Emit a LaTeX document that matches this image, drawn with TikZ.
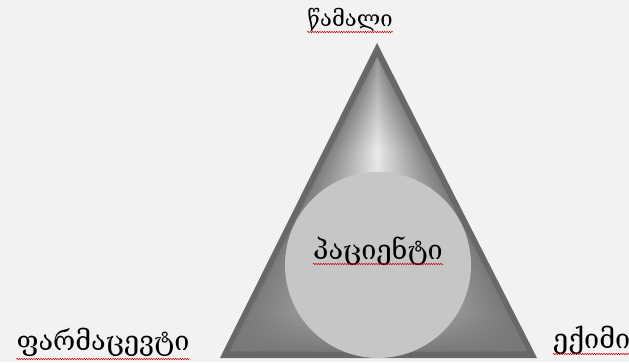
\documentclass[tikz,border=0pt]{standalone}
\usepackage{fontspec}
\newfontfamily\geo{DejaVu Serif}
\usetikzlibrary{decorations.pathmorphing,fadings}
\definecolor{bg}{HTML}{F2F2F2}
\definecolor{edge}{HTML}{686868}
\definecolor{disc}{HTML}{C6C6C6}
\definecolor{shout}{HTML}{787878}
\tikzfading[name=fadeup, top color=transparent!100, bottom color=transparent!0]
\tikzset{
  lbl/.style={font=\geo\fontsize{27}{30}\selectfont, inner sep=0pt, anchor=base},
  toplbl/.style={lbl, font=\geo\fontsize{22}{26}\selectfont},
  spell/.style={draw=red!80!black, line width=0.5pt, decorate,
    decoration={snake, amplitude=0.7pt, segment length=2.4pt}},
}
\begin{document}
\begin{tikzpicture}[x=1pt,y=-1pt]
\useasboundingbox (0,0) rectangle (629,362);
\fill[bg] (0,0) rectangle (629,362);
% triangle
\coordinate (A) at (377,43);
\coordinate (B) at (220,358);
\coordinate (C) at (537,358);
\fill[edge] (A) -- (B) -- (C) -- cycle;
\begin{scope}
  \clip (377,57) -- (230,351) -- (527,351) -- cycle;
  \foreach \y in {57,59,...,351}{
    \pgfmathsetmacro{\hw}{(\y+3-57)/294*148.5+2}
    \pgfmathsetmacro{\k}{\y<150 ? 40-(\y-57)/93*32 : 8+(\y-150)/201*20}
    \colorlet{midc}{black!\k!white}
    \shade[left color=shout, right color=shout, middle color=midc]
      (377-\hw,\y) rectangle (377+\hw,\y+2.6);
  }
  \fill[shout, path fading=fadeup] (220,312) rectangle (537,352);
\end{scope}
% disc
\node[circle, fill=disc, minimum size=186pt, inner sep=0pt] (c) at (378,265) {};
% labels
\node[lbl] (p) at (378,259) {პაციენტი};
\node[toplbl] (t) at (350,26) {წამალი};
\node[lbl] (l) at (103,350) {ფარმაცევტი};
\node[lbl, anchor=base west] (r) at (553,348) {ექიმი};
% spell-check underlines
\draw[spell] ([yshift=-5pt]p.base west) -- ([yshift=-5pt]p.base east);
\draw[spell] ([yshift=-6pt]t.base west) -- ([yshift=-6pt]t.base east);
\draw[spell] ([yshift=-9pt]l.base west) -- ([yshift=-9pt]l.base east);
\draw[spell] ([yshift=-6pt]r.base west) -- ([yshift=-6pt]r.base east);
\end{tikzpicture}
\end{document}
